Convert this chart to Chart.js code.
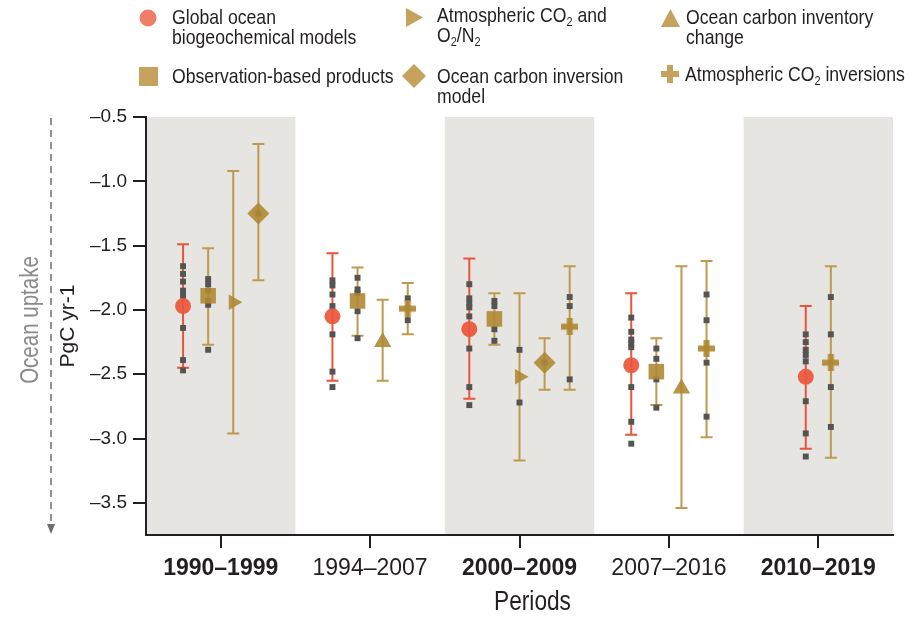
<!DOCTYPE html>
<html><head><meta charset="utf-8">
<script src="https://cdn.jsdelivr.net/npm/chart.js@4/dist/chart.umd.min.js"></script>
<style>
html,body{margin:0;padding:0;background:#fff;}
#wrap{position:relative;width:921px;height:619px;overflow:hidden;}
#c{position:absolute;left:0;top:0;}
.lg{position:absolute;font-family:"Liberation Sans",Arial,sans-serif;font-size:21px;line-height:20px;color:#231f20;white-space:nowrap;transform:scaleX(0.84);transform-origin:0 0;}
.lg sub{font-size:13px;line-height:0;vertical-align:-4px;}
.mk{position:absolute;}
</style></head><body>
<div id="wrap">
<canvas id="c" width="921" height="619"></canvas>
<svg class="mk" style="left:139px;top:9px" width="18" height="18"><circle cx="9" cy="9" r="8.5" fill="#EE7E68"/></svg>
<div class="lg" style="left:172px;top:7px">Global ocean<br>biogeochemical models</div>
<svg class="mk" style="left:406px;top:8px" width="18" height="19"><polygon points="0,0 17,9.5 0,19" fill="#C5A35C"/></svg>
<div class="lg" style="left:437px;top:5px">Atmospheric CO<sub>2</sub> and<br>O<sub>2</sub>/N<sub>2</sub></div>
<svg class="mk" style="left:661px;top:9px" width="19" height="18"><polygon points="0,18 9.5,0 19,18" fill="#C5A35C"/></svg>
<div class="lg" style="left:686px;top:7px">Ocean carbon inventory<br>change</div>
<svg class="mk" style="left:139px;top:67px" width="19" height="19"><rect x="0" y="0" width="19" height="19" fill="#C5A35C"/></svg>
<div class="lg" style="left:172px;top:66px">Observation-based products</div>
<svg class="mk" style="left:402px;top:64px" width="24" height="24"><polygon points="12,0 24,12 12,24 0,12" fill="#C5A35C"/></svg>
<div class="lg" style="left:437px;top:66px">Ocean carbon inversion<br>model</div>
<svg class="mk" style="left:661px;top:65px" width="18" height="18"><path d="M6,0H12V6H18V12H12V18H6V12H0V6H6Z" fill="#C5A35C"/></svg>
<div class="lg" style="left:685px;top:64px">Atmospheric CO<sub>2</sub> inversions</div>
</div>
<script>
// ---------- data ----------
const periods = ['1990–1999', '1994–2007', '2000–2009', '2007–2016', '2010–2019'];
const boldPeriods = [true, false, true, false, true];
const yTicks = [-0.5, -1.0, -1.5, -2.0, -2.5, -3.0, -3.5];

// Global ocean biogeochemical models
const gobmMean = [-1.97, -2.05, -2.15, -2.43, -2.52];
const gobmHigh = [-1.49, -1.56, -1.60, -1.87, -1.97];
const gobmLow  = [-2.45, -2.55, -2.69, -2.97, -3.08];
const gobmDots = [
  [-1.66, -1.72, -1.78, -1.85, -1.89, -2.14, -2.39, -2.47],
  [-1.77, -1.81, -1.88, -1.97, -2.19, -2.48, -2.60],
  [-1.80, -1.91, -1.95, -1.98, -2.05, -2.30, -2.60, -2.74],
  [-2.06, -2.17, -2.23, -2.26, -2.29, -2.60, -2.87, -3.04],
  [-2.19, -2.25, -2.31, -2.35, -2.40, -2.71, -2.96, -3.14]
];
// Observation-based products
const obsMean = [-1.89, -1.93, -2.07, -2.48, null];
const obsHigh = [-1.52, -1.67, -1.87, -2.22, null];
const obsLow  = [-2.27, -2.20, -2.27, -2.74, null];
const obsDots = [
  [-1.76, -1.80, -1.85, -1.93, -1.96, -2.31],
  [-1.75, -1.84, -1.87, -2.01, -2.22],
  [-1.93, -1.97, -2.15, -2.24],
  [-2.30, -2.38, -2.54, -2.76],
  []
];
// Atmospheric CO2 and O2/N2
const o2Mean = [-1.94, null, -2.52, null, null];
const o2High = [-0.92, null, -1.87, null, null];
const o2Low  = [-2.96, null, -3.17, null, null];
const o2Dots = [[], [], [-2.31, -2.72], [], []];
// Ocean carbon inventory change
const invMean = [null, -2.25, null, -2.61, null];
const invHigh = [null, -1.92, null, -1.66, null];
const invLow  = [null, -2.55, null, -3.54, null];
const invDots = [[], [], [], [], []];
// Ocean carbon inversion model
const ocinvMean = [-1.25, null, -2.41, null, null];
const ocinvHigh = [-0.71, null, -2.22, null, null];
const ocinvLow  = [-1.77, null, -2.62, null, null];
const ocinvDots = [[-1.25], [], [-2.41], [], []];
// Atmospheric CO2 inversions
const atminvMean = [null, -1.99, -2.13, -2.30, -2.41];
const atminvHigh = [null, -1.79, -1.66, -1.62, -1.66];
const atminvLow  = [null, -2.19, -2.62, -2.99, -3.15];
const atminvDots = [[], [-1.91, -2.08], [-1.90, -1.97, -2.54], [-1.88, -2.08, -2.41, -2.83], [-1.90, -2.19, -2.60, -2.91]];

// ---------- styling ----------
const RED_LINE = '#E8553A', RED_FILL = 'rgba(236,86,58,0.92)';
const GOLD_LINE = '#BE9A4E', GOLD_FILL = 'rgba(176,136,52,0.9)';
const FONT = '"Liberation Sans",Arial,sans-serif';

function makePlus(size, thick, color) {
  const c = document.createElement('canvas');
  c.width = size; c.height = size;
  const g = c.getContext('2d');
  g.fillStyle = color;
  const a = (size - thick) / 2;
  g.fillRect(a, 0, thick, size);
  g.fillRect(0, a, size, thick);
  return c;
}

const series = [
  {name: 'Global ocean biogeochemical models', mean: gobmMean, high: gobmHigh, low: gobmLow, dots: gobmDots, line: RED_LINE, fill: RED_FILL, style: 'circle', radius: 8, rot: 0},
  {name: 'Observation-based products', mean: obsMean, high: obsHigh, low: obsLow, dots: obsDots, line: GOLD_LINE, fill: GOLD_FILL, style: 'rect', radius: 11, rot: 0},
  {name: 'Atmospheric CO2 and O2/N2', mean: o2Mean, high: o2High, low: o2Low, dots: o2Dots, line: GOLD_LINE, fill: GOLD_FILL, style: 'triangle', radius: 9, rot: 90},
  {name: 'Ocean carbon inventory change', mean: invMean, high: invHigh, low: invLow, dots: invDots, line: GOLD_LINE, fill: GOLD_FILL, style: 'triangle', radius: 10, rot: 0},
  {name: 'Ocean carbon inversion model', mean: ocinvMean, high: ocinvHigh, low: ocinvLow, dots: ocinvDots, line: GOLD_LINE, fill: GOLD_FILL, style: 'rectRot', radius: 11, rot: 0},
  {name: 'Atmospheric CO2 inversions', mean: atminvMean, high: atminvHigh, low: atminvLow, dots: atminvDots, line: GOLD_LINE, fill: GOLD_FILL, style: makePlus(17, 6, 'rgba(176,136,52,0.92)'), radius: 9, rot: 0}
];

// within-period offsets (side-by-side placement of available series)
const STEP = 0.168;
function offsetOf(si, p) {
  const present = series.map((s, i) => s.mean[p] != null ? i : -1).filter(i => i >= 0);
  const k = present.indexOf(si);
  return (k - (present.length - 1) / 2) * STEP;
}

const datasets = [];
series.forEach((s, si) => {
  const pts = [];
  periods.forEach((_, p) => { if (s.mean[p] != null) pts.push({x: p + offsetOf(si, p), y: s.mean[p]}); });
  datasets.push({label: s.name, data: pts, order: 0, pointStyle: s.style, pointRadius: s.radius,
    pointRotation: s.rot, backgroundColor: s.fill, borderColor: s.fill, borderWidth: 0, showLine: false});
});
series.forEach((s, si) => {
  const pts = [];
  periods.forEach((_, p) => { if (s.mean[p] != null) s.dots[p].forEach(v => pts.push({x: p + offsetOf(si, p), y: v})); });
  datasets.push({label: s.name + ' (individual)', data: pts, order: 1, pointStyle: 'rect', pointRadius: 4.2,
    backgroundColor: '#555453', borderColor: '#555453', borderWidth: 0, showLine: false});
});

const panels = {
  id: 'panels',
  beforeDraw(chart) {
    const {ctx, chartArea: a, scales: {x}} = chart;
    ctx.save();
    ctx.fillStyle = '#E6E5E2';
    boldPeriods.forEach((b, i) => {
      if (!b) return;
      const l = x.getPixelForValue(i - 0.5), r = x.getPixelForValue(i + 0.5);
      ctx.fillRect(l, a.top, r - l, a.bottom - a.top);
    });
    ctx.restore();
  }
};

const errorBars = {
  id: 'errorBars',
  beforeDatasetsDraw(chart) {
    const {ctx, scales: {x, y}} = chart;
    ctx.save();
    ctx.lineWidth = 2;
    series.forEach((s, si) => {
      periods.forEach((_, p) => {
        if (s.mean[p] == null) return;
        const px = x.getPixelForValue(p + offsetOf(si, p));
        const yl = y.getPixelForValue(s.low[p]), yh = y.getPixelForValue(s.high[p]);
        ctx.strokeStyle = s.line;
        ctx.beginPath();
        ctx.moveTo(px, yl); ctx.lineTo(px, yh);
        ctx.moveTo(px - 6, yl); ctx.lineTo(px + 6, yl);
        ctx.moveTo(px - 6, yh); ctx.lineTo(px + 6, yh);
        ctx.stroke();
      });
    });
    ctx.restore();
  }
};

const annotations = {
  id: 'annotations',
  afterDraw(chart) {
    const {ctx, chartArea: a, scales: {x}} = chart;
    ctx.save();
    // Ocean uptake arrow
    ctx.strokeStyle = '#6d6d6d'; ctx.lineWidth = 1.5;
    ctx.setLineDash([7, 5]);
    ctx.beginPath(); ctx.moveTo(51, a.top + 1); ctx.lineTo(51, a.bottom - 10); ctx.stroke();
    ctx.setLineDash([]);
    ctx.fillStyle = '#6d6d6d';
    ctx.beginPath(); ctx.moveTo(47, a.bottom - 11); ctx.lineTo(55, a.bottom - 11); ctx.lineTo(51, a.bottom - 1); ctx.closePath(); ctx.fill();
    // Ocean uptake label (condensed)
    ctx.translate(31, 320); ctx.rotate(-Math.PI / 2); ctx.scale(0.82, 1);
    ctx.fillStyle = '#8a8a8a'; ctx.font = '25px ' + FONT;
    ctx.textAlign = 'center'; ctx.textBaseline = 'middle';
    ctx.fillText('Ocean uptake', 0, 0);
    ctx.restore();
    // x axis title (condensed)
    ctx.save();
    ctx.translate(x.getPixelForValue(2) + 13, 603); ctx.scale(0.84, 1);
    ctx.fillStyle = '#231f20'; ctx.font = '27px ' + FONT;
    ctx.textAlign = 'center'; ctx.textBaseline = 'middle';
    ctx.fillText('Periods', 0, 0);
    ctx.restore();
  }
};

new Chart(document.getElementById('c'), {
  type: 'scatter',
  data: {datasets},
  plugins: [panels, errorBars, annotations],
  options: {
    responsive: false, animation: false,
    layout: {padding: {left: 0, right: 28, top: 117, bottom: 0}},
    plugins: {legend: {display: false}, tooltip: {enabled: false}},
    scales: {
      x: {
        type: 'linear', min: -0.5, max: 4.5,
        afterFit: s => { s.height = 84; },
        afterBuildTicks: s => { s.ticks = periods.map((_, i) => ({value: i})); },
        grid: {drawOnChartArea: false, drawTicks: true, tickLength: 13, color: '#231f20', lineWidth: 2},
        border: {display: true, color: '#231f20', width: 2},
        ticks: {
          autoSkip: false, maxRotation: 0, padding: 7, color: '#231f20',
          callback: v => periods[v],
          font: ctx => ({family: FONT, size: 23, weight: boldPeriods[ctx.index] ? 'bold' : 'normal'})
        }
      },
      y: {
        min: -3.75, max: -0.5,
        afterFit: s => { s.width = 146; },
        afterBuildTicks: s => { s.ticks = yTicks.map(v => ({value: v})); },
        grid: {drawOnChartArea: false, drawTicks: true, tickLength: 13, color: '#231f20', lineWidth: 2},
        border: {display: true, color: '#231f20', width: 2},
        ticks: {
          padding: 6, color: '#231f20', font: {family: FONT, size: 19},
          callback: v => '–' + Math.abs(v).toFixed(1)
        },
        title: {display: true, text: 'PgC yr-1', color: '#231f20', font: {family: FONT, size: 21},
          padding: {top: 56, bottom: 0}}
      }
    }
  }
});
</script>
</body></html>
